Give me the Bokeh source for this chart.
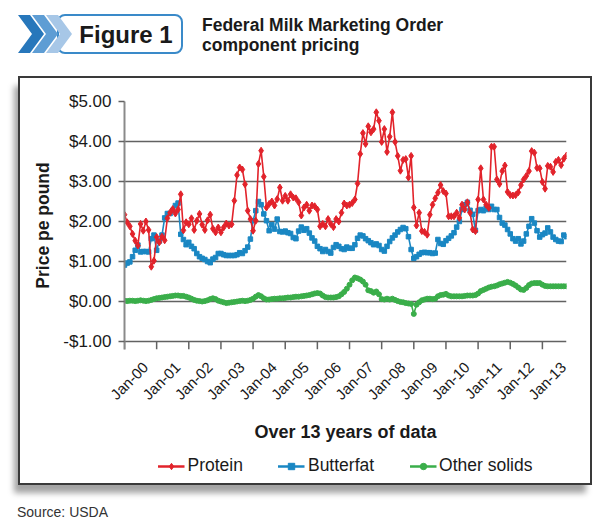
import numpy as np
from bokeh.plotting import figure
from bokeh.layouts import column
from bokeh.models import (Range1d, FixedTicker, Legend, LegendItem, ColumnDataSource, Div,
                          LinearAxis)
from bokeh.embed import file_html
from bokeh.resources import INLINE

# Monthly FMMO component prices, $/lb, Jan 2000 onward (one row per year)
protein = [
    2.17, 1.98, 1.88, 1.69, 1.52, 1.40, 1.94, 1.77, 2.00, 1.79, 0.87, 1.02,
    1.61, 1.48, 1.62, 1.53, 2.08, 2.22, 2.31, 2.20, 2.30, 2.68, 1.78, 1.98,
    1.93, 2.08, 1.79, 2.02, 2.19, 1.92, 1.79, 2.03, 2.17, 1.82, 1.73, 1.85,
    1.73, 1.85, 1.95, 1.90, 1.93, 2.52, 3.16, 3.35, 3.30, 2.93, 2.27, 2.06,
    1.77, 2.02, 3.44, 3.77, 3.12, 2.35, 2.44, 2.50, 2.40, 2.56, 2.85, 2.52,
    2.64, 2.52, 2.68, 2.60, 2.58, 2.48, 2.15, 2.35, 2.42, 2.27, 2.40, 2.38,
    2.30, 1.88, 1.94, 1.88, 2.06, 1.94, 1.86, 2.06, 2.00, 2.22, 2.45, 2.40,
    2.42, 2.46, 2.55, 2.95, 3.69, 4.21, 3.94, 4.38, 4.23, 4.31, 4.73, 4.52,
    3.99, 4.31, 3.74, 4.12, 4.73, 3.99, 3.64, 3.27, 3.54, 3.56, 3.10, 3.64,
    2.35, 1.90, 2.22, 1.76, 1.74, 1.67, 2.17, 2.42, 2.58, 2.72, 2.91, 2.76,
    2.70, 2.13, 2.13, 2.13, 2.22, 2.09, 2.42, 2.30, 2.48, 2.22, 1.80, 1.76,
    2.55, 3.33, 2.55, 2.42, 2.34, 3.87, 3.87, 3.05, 2.94, 3.26, 3.40, 2.74,
    2.66, 2.65, 2.66, 2.73, 2.91, 3.05, 3.14, 3.26, 3.76, 3.72, 3.34, 3.33,
    2.99, 2.82, 3.39, 3.37, 3.24, 3.49, 3.54, 3.41, 3.57, 3.65,
]
butterfat = [
    0.91, 0.96, 0.99, 1.12, 1.28, 1.41, 1.24, 1.25, 1.25, 1.24, 1.57, 1.66,
    1.28, 1.51, 1.66, 2.09, 2.20, 2.20, 2.28, 2.40, 2.46, 1.68, 1.55, 1.42,
    1.48, 1.38, 1.32, 1.20, 1.12, 1.08, 1.05, 1.00, 0.97, 1.06, 1.10, 1.20,
    1.20, 1.17, 1.15, 1.15, 1.15, 1.15, 1.17, 1.22, 1.20, 1.27, 1.36, 1.56,
    2.02, 2.27, 2.50, 2.42, 2.19, 2.02, 1.77, 1.92, 1.81, 2.06, 1.75, 1.74,
    1.76, 1.72, 1.70, 1.60, 1.57, 1.76, 1.86, 1.78, 1.82, 1.71, 1.59, 1.51,
    1.38, 1.32, 1.25, 1.30, 1.25, 1.21, 1.35, 1.42, 1.38, 1.32, 1.30, 1.36,
    1.33, 1.33, 1.42, 1.58, 1.66, 1.64, 1.57, 1.52, 1.47, 1.42, 1.44, 1.40,
    1.30, 1.26, 1.38, 1.50, 1.59, 1.66, 1.74, 1.80, 1.85, 1.82, 1.62, 1.30,
    1.08, 1.12, 1.18, 1.22, 1.23, 1.22, 1.22, 1.20, 1.21, 1.55, 1.45, 1.43,
    1.52, 1.58, 1.64, 1.72, 1.86, 2.00, 2.30, 2.42, 2.48, 2.28, 2.18, 1.78,
    2.27, 2.30, 2.27, 2.34, 2.30, 2.38, 2.30, 2.30, 2.10, 1.96, 1.91, 1.80,
    1.69, 1.57, 1.51, 1.57, 1.44, 1.51, 1.69, 1.88, 2.07, 1.96, 1.77, 1.61,
    1.67, 1.71, 1.84, 1.74, 1.61, 1.55, 1.51, 1.50, 1.66, 1.62,
]
other_solids = [
    0.02, 0.01, 0.02, 0.02, 0.01, 0.02, 0.03, 0.02, 0.01, 0.02, 0.04, 0.06,
    0.08, 0.09, 0.10, 0.11, 0.12, 0.13, 0.14, 0.15, 0.15, 0.14, 0.14, 0.12,
    0.10, 0.07, 0.04, 0.02, 0.01, 0.00, 0.01, 0.03, 0.06, 0.08, 0.06, 0.02,
    0.00, -0.02, -0.04, -0.03, -0.02, -0.01, 0.00, 0.01, 0.02, 0.01, 0.02, 0.04,
    0.07, 0.12, 0.16, 0.13, 0.08, 0.05, 0.05, 0.06, 0.07, 0.07, 0.08, 0.08,
    0.09, 0.10, 0.10, 0.11, 0.12, 0.12, 0.13, 0.14, 0.15, 0.16, 0.18, 0.20,
    0.21, 0.20, 0.15, 0.11, 0.10, 0.10, 0.10, 0.11, 0.13, 0.18, 0.24, 0.32,
    0.42, 0.53, 0.60, 0.58, 0.55, 0.50, 0.42, 0.28, 0.26, 0.22, 0.25, 0.18,
    0.06, 0.05, 0.07, 0.05, 0.07, 0.04, 0.01, -0.01, -0.02, -0.04, -0.05, -0.06,
    -0.31, -0.08, -0.02, 0.03, 0.05, 0.07, 0.07, 0.06, 0.07, 0.13, 0.16, 0.17,
    0.19, 0.15, 0.13, 0.13, 0.13, 0.13, 0.13, 0.14, 0.15, 0.15, 0.15, 0.16,
    0.20, 0.26, 0.29, 0.32, 0.35, 0.37, 0.38, 0.40, 0.43, 0.45, 0.47, 0.49,
    0.47, 0.44, 0.40, 0.35, 0.30, 0.29, 0.34, 0.41, 0.45, 0.46, 0.46, 0.46,
    0.42, 0.39, 0.38, 0.38, 0.38, 0.38, 0.38, 0.38, 0.38, 0.38,
]
series_names = ["Protein", "Butterfat", "Other solids"]
year_labels = ["Jan-00", "Jan-01", "Jan-02", "Jan-03", "Jan-04", "Jan-05", "Jan-06",
               "Jan-07", "Jan-08", "Jan-09", "Jan-10", "Jan-11", "Jan-12", "Jan-13"]
price_ticks = [-1, 0, 1, 2, 3, 4, 5]
price_labels = ["-$1.00", "$0.00", "$1.00", "$2.00", "$3.00", "$4.00", "$5.00"]
figure_tag = "Figure 1"
title_lines = ["Federal Milk Marketing Order", "component pricing"]
source_note = "Source: USDA"

months = list(range(len(protein)))
year_ticks = [12 * i for i in range(len(year_labels))]

FONT = "Liberation Sans"
RED, BLUE, GREEN = "#e2232b", "#1a87c3", "#3aae4a"
INK = "#1a1a1a"
GRID = "#626262"

# ---------- header: chevron badge + two-line title (inline SVG) ----------
chev_colors = ["#2777bb", "#5e9dd4", "#a7c7e7"]
chevrons = ""
for i, c in enumerate(chev_colors):
    dx = 14 * i
    pts = [(18 + dx, 15), (30 + dx, 15), (44 + dx, 34), (30 + dx, 53), (18 + dx, 53), (32 + dx, 34)]
    chevrons += '<polygon points="%s" fill="%s"/>' % (" ".join("%d,%d" % q for q in pts), c)

header_svg = f"""
<svg xmlns="http://www.w3.org/2000/svg" width="610" height="76" style="display:block">
  <path d="M65,15 H175 A7,7 0 0 1 182,22 V46 A7,7 0 0 1 175,53 H65 A7,7 0 0 1 58,46 V22 A7,7 0 0 1 65,15 Z"
        fill="white" stroke="#3a8ac9" stroke-width="2"/>
  {chevrons}
  <text x="126" y="43" text-anchor="middle" font-family="{FONT}" font-weight="bold"
        font-size="24px" fill="{INK}">{figure_tag}</text>
  <text font-family="{FONT}" font-weight="bold" font-size="17.5px" fill="{INK}">
    <tspan x="202" y="30.5">{title_lines[0]}</tspan><tspan x="202" y="50.5">{title_lines[1]}</tspan>
  </text>
</svg>"""
header = Div(text=header_svg, width=610, height=76, margin=(0, 0, 0, 0))

# ---------- main chart ----------
n_months = len(protein)
tick_depth = 0.2          # year tick marks hang this far (in $) below the lowest gridline
y_floor = price_ticks[0] - tick_depth

p = figure(width=570, height=371, x_range=Range1d(0, n_months - 1),
           y_range=Range1d(y_floor, price_ticks[-1]), x_axis_location=None,
           output_backend="svg", toolbar_location=None,
           min_border_left=104, min_border_right=24, min_border_top=23, min_border_bottom=100,
           outline_line_color=None)

p.xgrid.visible = False
p.ygrid.grid_line_color = GRID
p.ygrid.grid_line_width = 1.5

p.yaxis.ticker = FixedTicker(ticks=price_ticks)
p.yaxis.major_label_overrides = dict(zip(price_ticks, price_labels))
p.yaxis.minor_tick_line_color = None
p.yaxis.major_tick_out = 6
p.yaxis.major_tick_in = 0
p.yaxis.major_tick_line_color = GRID
p.yaxis.major_tick_line_width = 1.5
p.yaxis.axis_line_color = "#8a8a8a"
p.yaxis.axis_line_width = 2
p.yaxis.major_label_standoff = 7
p.yaxis.major_label_text_font = FONT
p.yaxis.major_label_text_font_size = "17px"
p.yaxis.major_label_text_color = INK
p.yaxis.axis_label = "Price pe pound"
p.yaxis.axis_label_text_font = FONT
p.yaxis.axis_label_text_font_style = "bold"
p.yaxis.axis_label_text_font_size = "17.5px"
p.yaxis.axis_label_text_color = INK
p.yaxis.axis_label_standoff = 7

# year tick marks hanging from the bottom gridline
p.segment(x0=year_ticks, y0=[price_ticks[0]] * len(year_ticks),
          x1=year_ticks, y1=[y_floor] * len(year_ticks),
          line_color=GRID, line_width=1.5)

# slanted year labels, centred under their tick marks (label axis offset by ~8 months)
label_shift = 7.8
p.extra_x_ranges = {"year_labels": Range1d(-label_shift, n_months - 1 - label_shift)}
label_axis = LinearAxis(x_range_name="year_labels", ticker=FixedTicker(ticks=year_ticks),
                        major_label_overrides=dict(zip(year_ticks, year_labels)),
                        major_label_orientation=np.pi / 4,
                        axis_line_color=None, major_tick_line_color=None,
                        minor_tick_line_color=None, major_tick_out=0, major_tick_in=0,
                        major_label_standoff=15,
                        major_label_text_font=FONT, major_label_text_font_size="15px",
                        major_label_text_color=INK,
                        axis_label="Over 13 years of data", axis_label_text_font=FONT,
                        axis_label_text_font_style="bold", axis_label_text_font_size="18px",
                        axis_label_text_color=INK, axis_label_standoff=10)
p.add_layout(label_axis, "below")

src = ColumnDataSource(dict(month=months, protein=protein, butterfat=butterfat, other=other_solids))

STYLE = {
    "Protein": dict(col="protein", color=RED, marker="diamond", size=7),
    "Butterfat": dict(col="butterfat", color=BLUE, marker="square", size=4.5),
    "Other solids": dict(col="other", color=GREEN, marker="circle", size=5),
}

for name in ["Butterfat", "Protein", "Other solids"]:
    st = STYLE[name]
    p.line("month", st["col"], source=src, line_color=st["color"], line_width=1.6)
    p.scatter("month", st["col"], source=src, marker=st["marker"], size=st["size"],
              fill_color=st["color"], line_color=st["color"])

# ---------- legend strip (inside the framed box, under the axis title) ----------
# the key renderers share the series source; the strip's range keeps the series out of view
leg = figure(width=570, height=34, x_range=Range1d(-20, -19), y_range=Range1d(0, 1),
             x_axis_location=None, y_axis_location=None, output_backend="svg",
             toolbar_location=None, outline_line_color=None,
             min_border_left=104, min_border_right=24, min_border_top=0, min_border_bottom=0)
leg.grid.visible = False
items = []
for name in series_names:
    st = STYLE[name]
    kl = leg.line("month", st["col"], source=src, line_color=st["color"], line_width=2.5)
    km = leg.scatter("month", st["col"], source=src, marker=st["marker"], size=st["size"] + 4,
                     fill_color=st["color"], line_color=st["color"])
    items.append(LegendItem(label=name, renderers=[kl, km]))
legend = Legend(items=items, orientation="horizontal", location="top_center",
                label_text_font=FONT, label_text_font_size="17.5px", label_text_color=INK,
                glyph_width=27, glyph_height=16, label_standoff=3, spacing=35,
                border_line_color=None, background_fill_alpha=0, padding=0, margin=6)
leg.add_layout(legend)

box = column(p, leg, spacing=0, margin=(2, 0, 2, 20))
box.styles = {"box-shadow": "0 0 0 2px #3a3a3a, -5px 9px 6px 1px #a3a3a3", "background": "white"}

# ---------- source note ----------
note_svg = f"""
<svg xmlns="http://www.w3.org/2000/svg" width="610" height="46" style="display:block">
  <text x="17" y="32" font-family="{FONT}" font-size="14px" fill="#333333">{source_note}</text>
</svg>"""
note = Div(text=note_svg, width=610, height=46, margin=(0, 0, 0, 0))

layout = column(header, box, note, spacing=0)
open("out.html", "w").write(file_html(layout, INLINE))
